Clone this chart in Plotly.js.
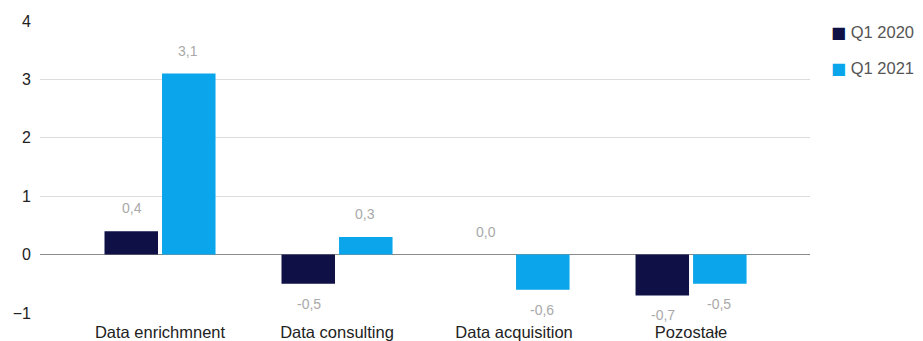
<!DOCTYPE html>
<html><head><meta charset="utf-8">
<script src="https://cdn.plot.ly/plotly-3.0.1.min.js"></script>
<style>html,body{margin:0;padding:0;background:#fff;}#chart{width:923px;height:341px;}</style>
</head><body><div id="chart"></div>
<script>
const categories = ["Data enrichmnent", "Data consulting", "Data acquisition", "Pozostałe"];
const seriesNames = ["Q1 2020", "Q1 2021"];
const q1_2020 = [0.4, -0.5, 0.0, -0.7];
const q1_2021 = [3.1, 0.3, -0.6, -0.5];
const colors = ["#0e1046", "#0aa5ea"];

const FONT = "Liberation Sans, Arial, sans-serif";
const fmt = v => v.toFixed(1).replace(".", ",");
const allSeries = [q1_2020, q1_2021];

const traces = allSeries.map((vals, s) => ({
  type: "bar", x: categories, y: vals, name: seriesNames[s],
  marker: {color: colors[s]}, hoverinfo: "skip", showlegend: false
}));

const annotations = [];
allSeries.forEach((vals, s) => {
  vals.forEach((v, i) => {
    annotations.push({
      x: categories[i], y: v, xref: "x", yref: "y", text: fmt(v), showarrow: false,
      xshift: s === 0 ? -28 : 28, yshift: v >= 0 ? 23 : -20,
      font: {family: FONT, size: 14, color: "#a9a9a9"}
    });
  });
});
// legend drawn as text entries
const legendY = [0.962, 0.839];
seriesNames.forEach((n, s) => {
  annotations.push({
    xref: "paper", yref: "paper", x: 1.025, y: legendY[s], xanchor: "left", yanchor: "middle",
    showarrow: false,
    text: "<span style='color:" + colors[s] + ";font-family:DejaVu Sans;font-size:16px'>■</span> " + n,
    font: {family: FONT, size: 16.5, color: "#555"}
  });
});

const layout = {
  width: 923, height: 341,
  margin: {l: 40, r: 113, t: 21, b: 28},
  paper_bgcolor: "#fff", plot_bgcolor: "#fff",
  font: {family: FONT, color: "#222"},
  barmode: "group", bargap: 0.35, bargroupgap: 0.07,
  xaxis: {type: "category", range: [-0.678, 3.672], showgrid: false, zeroline: false,
          showline: false, ticks: "", ticklabelstandoff: 7, tickfont: {size: 16.5, color: "#222"}},
  yaxis: {range: [-1, 4], dtick: 1, showgrid: true, gridcolor: "#dcdcdc", gridwidth: 1,
          zeroline: true, zerolinecolor: "#8a8a8a", zerolinewidth: 1.5,
          showline: false, ticks: "", ticklabelstandoff: 8, tickfont: {size: 16, color: "#222"}},
  showlegend: false,
  annotations: annotations
};

Plotly.newPlot("chart", traces, layout, {displayModeBar: false, staticPlot: true});
</script></body></html>
